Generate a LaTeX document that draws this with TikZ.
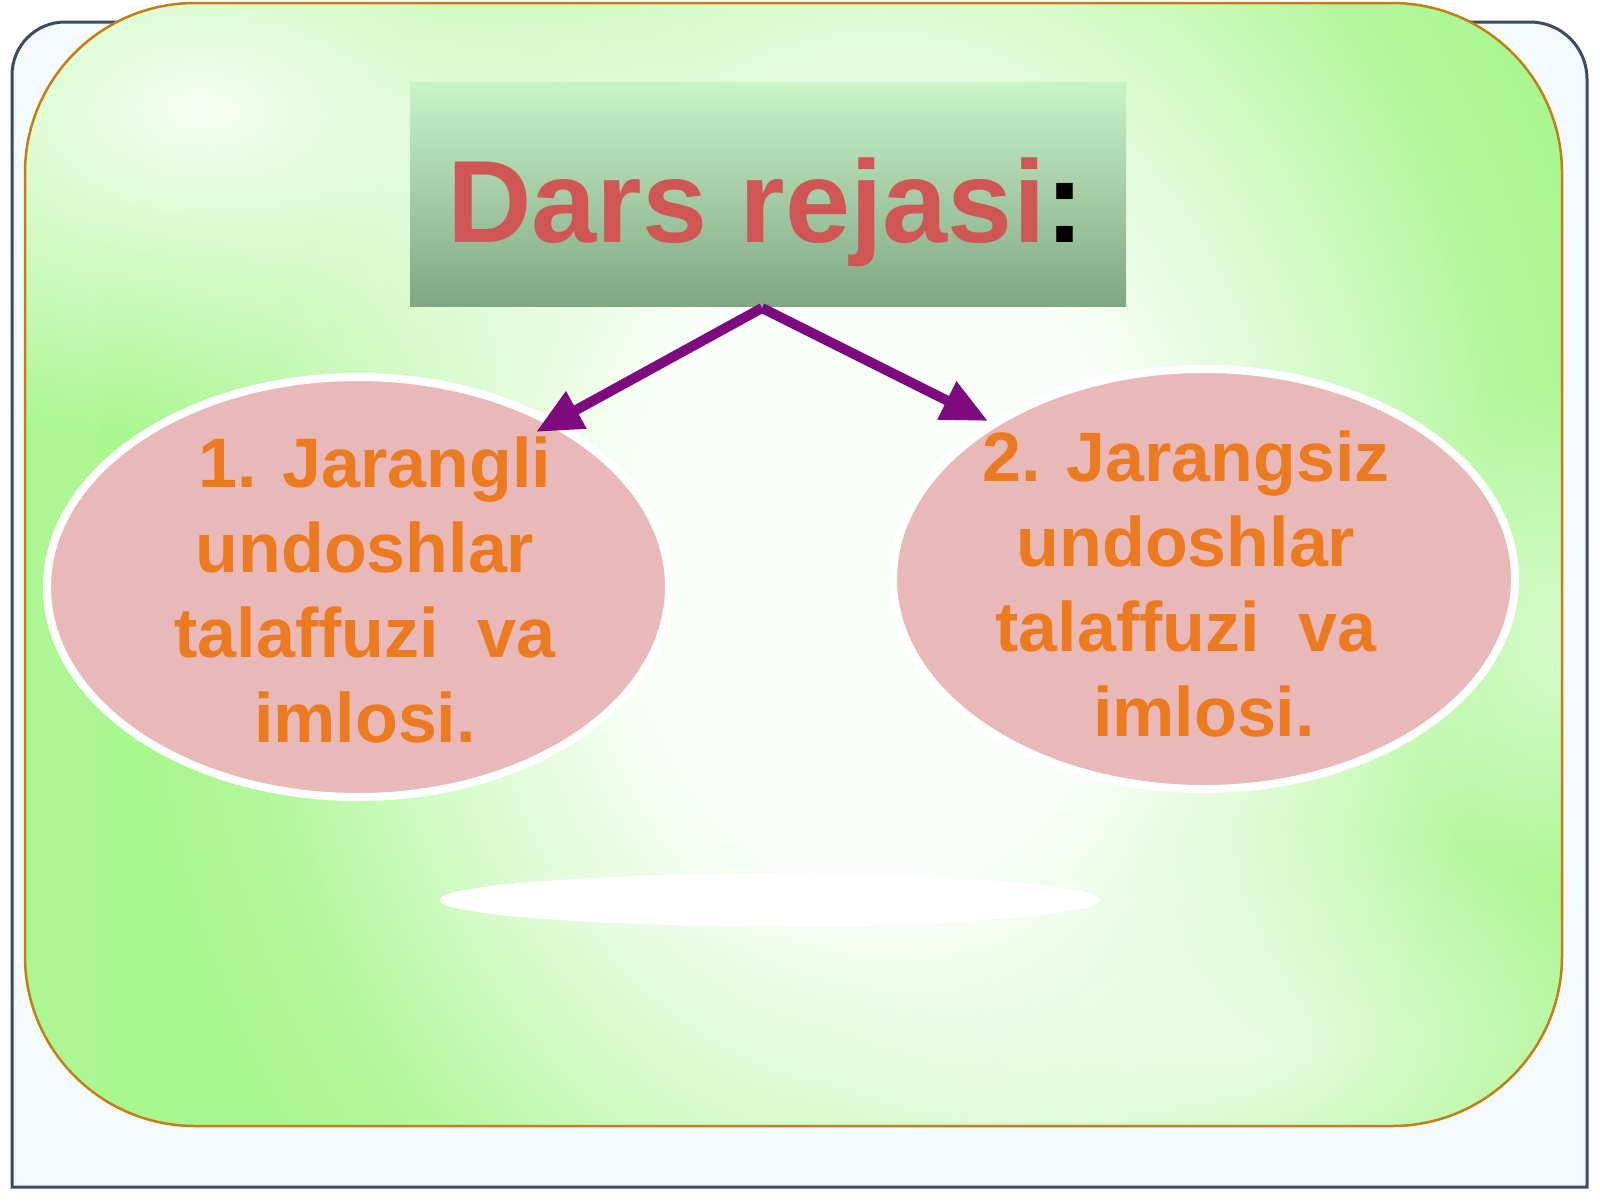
\documentclass[tikz,border=0pt]{standalone}
\usepackage{fontspec}
\setmainfont{Liberation Sans}
\usetikzlibrary{shapes.geometric,arrows.meta,fadings}
\definecolor{framec}{HTML}{3C4A66}
\definecolor{framefill}{HTML}{F4FAFC}
\definecolor{orangeb}{HTML}{C47F12}
\definecolor{bgg}{HTML}{A9F78F}
\definecolor{boxtop}{HTML}{C8F4C8}
\definecolor{boxbot}{HTML}{80A682}
\definecolor{titlered}{HTML}{D05656}
\definecolor{pinkfill}{HTML}{E9B9B9}
\definecolor{txtorange}{HTML}{EC7A1E}
\definecolor{arrowc}{HTML}{7E0A80}
\pgfdeclareradialshading{bgshade}{\pgfpoint{0bp}{0bp}}{color(0bp)=(white); color(8bp)=(white); color(15bp)=(bgg!45!white); color(20bp)=(bgg!85!white); color(24bp)=(bgg); color(50bp)=(bgg)}
\tikzfading[name=myfadeout, inner color=transparent!0, outer color=transparent!100]
\tikzset{
  ovalbox/.style={ellipse, fill=pinkfill, draw=white, line width=8pt, minimum width=622pt, minimum height=420pt, inner sep=0pt},
  ovaltext/.style={font=\fontsize{70}{85}\selectfont\bfseries, text=txtorange, align=center, inner sep=0pt},
  titlebox/.style={rectangle, minimum width=716pt, minimum height=224pt, top color=boxtop, bottom color=boxbot, inner sep=0pt},
  titletext/.style={font=\fontsize{117}{130}\selectfont\bfseries, inner sep=0pt, anchor=base},
  conn/.style={draw=arrowc, line width=10pt, -{Triangle[length=46pt,width=40pt]}},
  glow/.style={white, path fading=myfadeout}
}
\begin{document}
\begin{tikzpicture}[x=1pt,y=-1pt]
\useasboundingbox (0,0) rectangle (1600,1200);
\fill[white] (0,0) rectangle (1600,1200);
% outer frame
\draw[framec, line width=3pt, fill=framefill]
  (12,1187) -- (12,75) arc[start angle=180, end angle=90, radius=53pt]
  -- (1530,22) arc[start angle=90, end angle=0, radius=57pt]
  -- (1587,1187) -- cycle;
% green rounded panel
\begin{scope}
  \clip[rounded corners=170pt] (25,3) rectangle (1562,1126);
  \fill[bgg, opacity=0.95] (0,0) rectangle (1600,1200);
  \shade[shading=bgshade, opacity=0.95] (100,-450) rectangle (1660,1570);
  \fill[glow, opacity=0.9] (200,110) ellipse [x radius=520pt, y radius=330pt];
  \fill[glow, opacity=0.6] (1260,1050) ellipse [x radius=440pt, y radius=230pt];
  \fill[glow, opacity=0.5] (1560,640) ellipse [x radius=160pt, y radius=260pt];
\end{scope}
\draw[orangeb, line width=2.5pt, rounded corners=170pt] (25,3) rectangle (1562,1126);
% white shadow
\fill[glow, opacity=0.7] (790,900) ellipse [x radius=370pt, y radius=40pt];
\fill[white] (770,900) ellipse [x radius=330pt, y radius=26pt];
% title
\node[titlebox] (title) at (768,194) {};
\node[titletext] (ttext) at (766,242) {\textcolor{titlered}{Dars rejasi}:};
% ellipses
\node[ovalbox] (e1) at (358,587) {};
\node[ovalbox] (e2) at (1204,579) {};
\node[ovaltext] (t1) at (365,590) {\hspace*{20pt}1. Jarangli\\undoshlar\\talaffuzi\ \ va\\imlosi.};
\node[ovaltext] (t2) at (1186,584) {2. Jarangsiz\\undoshlar\\talaffuzi\ \ va\\\hspace*{36pt}imlosi.};
% connectors
\coordinate (apex) at (762,308);
\coordinate (tipL) at (536,432);
\coordinate (tipR) at (988,421);
\draw[conn] (apex) -- (tipL);
\draw[conn] (apex) -- (tipR);
\end{tikzpicture}
\end{document}
